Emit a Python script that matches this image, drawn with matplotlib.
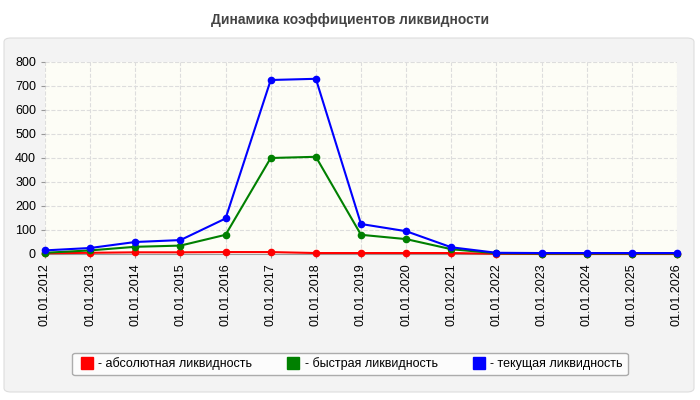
import matplotlib
matplotlib.use("Agg")
import matplotlib.pyplot as plt
from matplotlib.patches import FancyBboxPatch

labels = ["01.01.%d" % y for y in range(2012, 2027)]
absolute = [3, 5, 7, 7, 8, 8, 4, 4, 4, 4, 1, 0, 0, 0, 0]
quick = [5, 15, 30, 35, 80, 400, 405, 80, 62, 20, 3, 2, 2, 2, 2]
current = [15, 25, 50, 58, 148, 725, 730, 125, 95, 28, 5, 4, 4, 4, 4]

fig = plt.figure(figsize=(7, 4), dpi=100)
fig.patch.set_facecolor("white")
bg = FancyBboxPatch((4/700, 8/400), 690/700, 354/400, boxstyle="round,pad=0,rounding_size=0.01",
                    transform=fig.transFigure, facecolor="#f3f3f3", edgecolor="#dddddd", lw=0.8, zorder=-10)
fig.patches.append(bg)
fig.text(0.5, 1-20/400, "Динамика коэффициентов ликвидности", ha="center", va="center",
         fontsize=10, fontweight="bold", color="#444444", family="Liberation Sans")
ax = fig.add_axes([45/700, 1-254/400, 632/700, 192/400])
ax.set_zorder(5)
ax.set_facecolor("#fdfdf6")
x = list(range(len(labels)))
for data, c, lab in [(absolute, "red", "- абсолютная ликвидность"),
                     (quick, "green", "- быстрая ликвидность"),
                     (current, "blue", "- текущая ликвидность")]:
    ax.plot(x, data, color=c, lw=1.5, marker="o", ms=4.5, label=lab, zorder=3, clip_on=False)
ax.set_xlim(0, len(labels)-1)
ax.set_ylim(0, 800)
ax.set_yticks(range(0, 801, 100))
ax.set_xticks(x)
ax.set_xticklabels(labels, rotation=90, fontsize=9, family="Liberation Sans")
ax.tick_params(axis="y", labelsize=9)
for l in ax.get_yticklabels():
    l.set_family("Liberation Sans")
ax.grid(True, color="#dddddd", ls="--", lw=0.8)
for s in ax.spines.values():
    s.set_visible(False)
ax.spines["bottom"].set_visible(True)
ax.spines["bottom"].set_color("#999999")
ax.tick_params(length=3, color="#999999")
leg = fig.legend(loc="center", bbox_to_anchor=(350/700, 1-364/400), ncol=3, frameon=True,
                 prop={"family": "Liberation Sans", "size": 9}, handlelength=1.5, handletextpad=0.2,
                 columnspacing=2.5, fancybox=True)
leg.set_zorder(6)
leg.get_frame().set_edgecolor("#999999")
for h in leg.legend_handles:
    h.set_marker("s"); h.set_linestyle(""); h.set_markersize(9)
fig.savefig("out.png", dpi=100)
